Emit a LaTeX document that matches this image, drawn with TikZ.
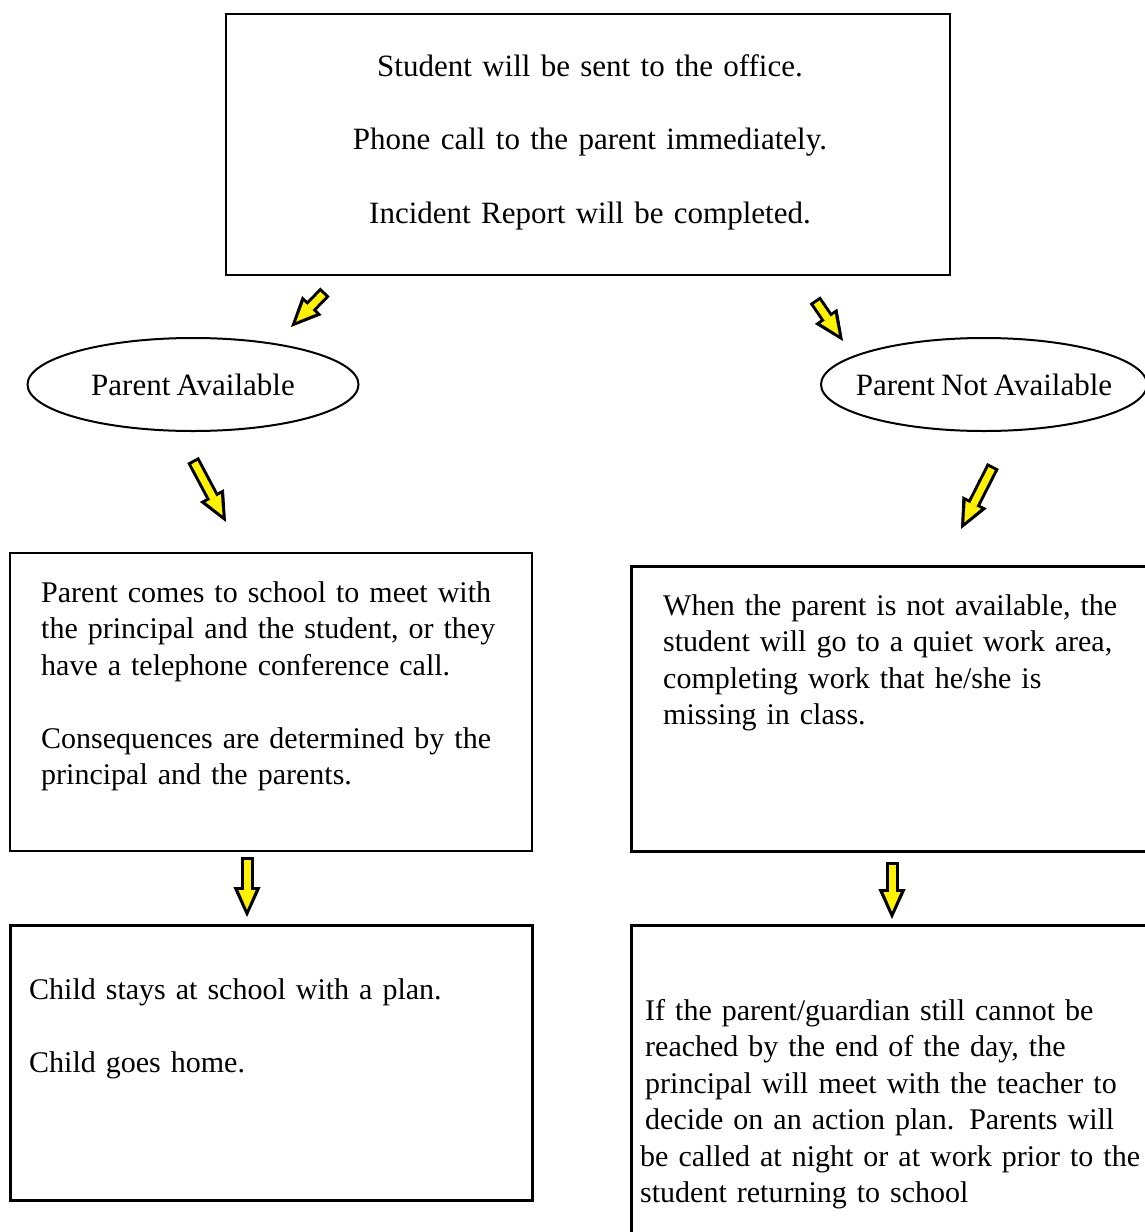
\documentclass[tikz,border=0pt]{standalone}
\usepackage{fontspec}
\setmainfont{Liberation Serif}[WordSpace=0.8]
\usepackage{tikz}
\usetikzlibrary{shapes.geometric}
\usetikzlibrary{arrows.meta}

\begin{document}
\begin{tikzpicture}[x=1pt, y=-1pt,
        box/.style={draw, rectangle, inner sep=0pt},
        oval/.style={draw, ellipse, line width=2pt, inner sep=0pt, minimum height=93},
        ovaltext/.style={inner sep=0pt, font=\fontsize{31}{36.5}\selectfont},
        txt/.style={inner sep=0pt, text width=530pt, align=left, font=\fontsize{30}{36.5}\selectfont},
        yarrow/.style={draw=black, line width=13pt, -{Triangle[length=30pt, width=27pt, line width=0.8pt]},
            postaction={draw=yellow, line width=7pt, shorten <=3pt, shorten >=7.5pt,
                -{Triangle[length=19.5pt, width=17pt, line width=0.1pt]}}}]
            \useasboundingbox (0,0) rectangle (1145,1232);

            % Boxes
            \node[box, line width=2pt, minimum width=724, minimum height=261] (office) at (588,144.5) {};
            \node[box, line width=1.5pt, minimum width=522, minimum height=298] (meetBox) at (271,702) {};
            \node[box, line width=3pt, minimum width=529, minimum height=285] (quietBox) at (895.5,708.5) {};
            \node[box, line width=3pt, minimum width=522, minimum height=275] (homeBox) at (271,1062.5) {};
            \node[box, line width=3pt, minimum width=529, minimum height=325] (planBox) at (895.5,1087.5) {};

            % Ovals
            \node[oval, minimum width=331, label={[ovaltext]center:Parent Available}] (avail) at (193,384.5) {};
            \node[oval, minimum width=326, label={[ovaltext]center:Parent Not Available}] (notAvail) at (984,384.5) {};

            % Texts
            \node[txt, text width=700pt, align=center, anchor=base, font=\fontsize{31}{36.5}\selectfont] (officeText) at (590,76)
                {Student will be sent to the office.\\[37pt]
                 Phone call to the parent immediately.\\[37pt]
                 Incident Report will be completed.};
            \node[txt, anchor=base west] (meetText) at (41,602)
                {Parent comes to school to meet with\\
                 the principal and the student, or they\\
                 have a telephone conference call.\\[36.5pt]
                 Consequences are determined by the\\
                 principal and the parents.};
            \node[txt, anchor=base west] (quietText) at (663,615)
                {When the parent is not available, the\\
                 student will go to a quiet work area,\\
                 completing work that he/she is\\
                 missing in class.};
            \node[txt, anchor=base west] (homeText) at (29,999)
                {Child stays at school with a plan.\\[37pt]
                 Child goes home.};
            \node[txt, anchor=base west] (planText) at (645,1020)
                {If the parent/guardian still cannot be\\
                 reached by the end of the day, the\\
                 principal will meet with the teacher to\\
                 decide on an action plan.  Parents will\\
                 \hspace*{-5pt}be called at night or at work prior to the\\
                 \hspace*{-5pt}student returning to school};

            % Arrow ends
            \coordinate (offL) at (325,292);
            \coordinate (offLend) at (291,327);
            \coordinate (offR) at (815,300);
            \coordinate (offRend) at (843,341);
            \coordinate (availD) at (193,460);
            \coordinate (availDend) at (226,522);
            \coordinate (notAvailD) at (993,466);
            \coordinate (notAvailDend) at (961,529);
            \coordinate (meetD) at (247,857);
            \coordinate (meetDend) at (247,917);
            \coordinate (quietD) at (892,862);
            \coordinate (quietDend) at (892,919);

            % Arrows
            \draw[yarrow] (offL) -- (offLend);
            \draw[yarrow] (offR) -- (offRend);
            \draw[yarrow] (availD) -- (availDend);
            \draw[yarrow] (notAvailD) -- (notAvailDend);
            \draw[yarrow] (meetD) -- (meetDend);
            \draw[yarrow] (quietD) -- (quietDend);
        \end{tikzpicture}
\end{document}
